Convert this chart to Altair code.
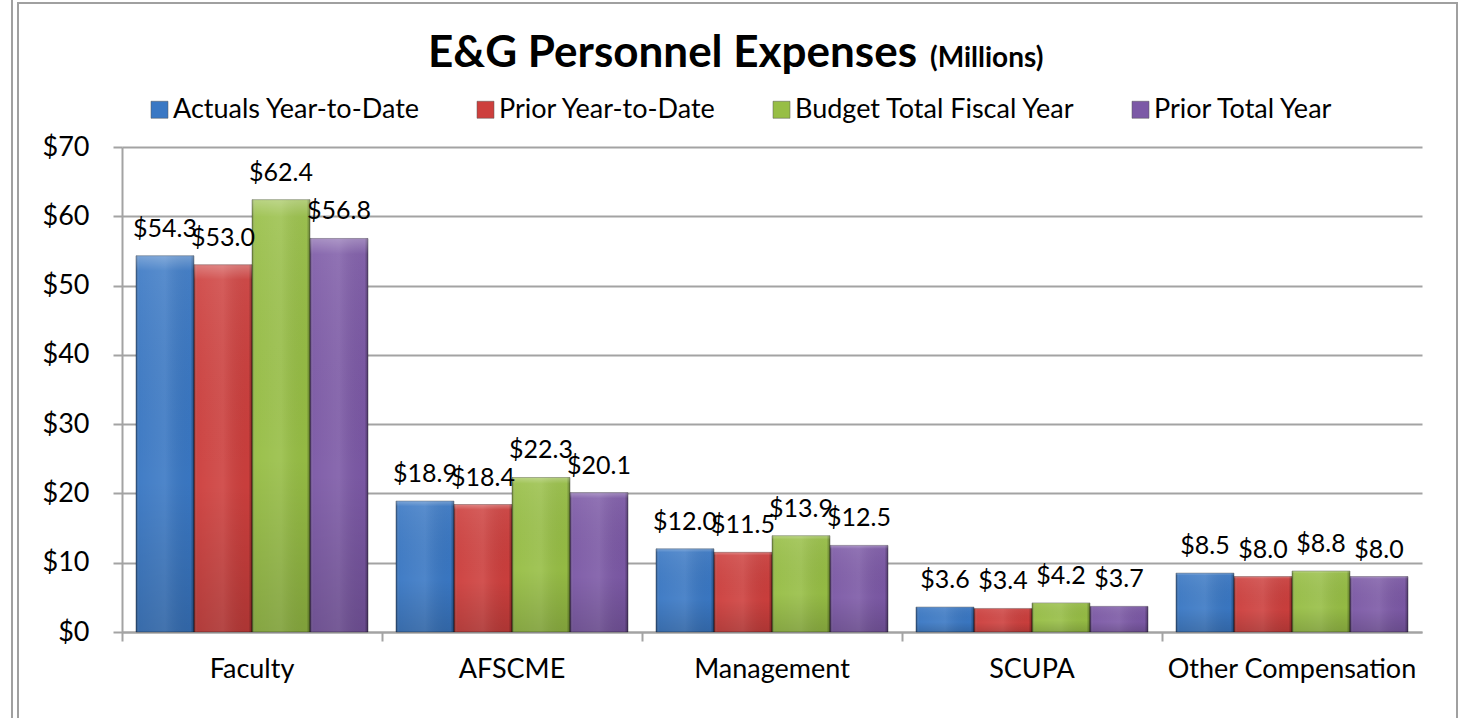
import altair as alt
import pandas as pd

categories = ["Faculty", "AFSCME", "Management", "SCUPA", "Other Compensation"]
series = ["Actuals Year-to-Date", "Prior Year-to-Date", "Budget Total Fiscal Year", "Prior Total Year"]
actuals_ytd = [54.3, 18.9, 12.0, 3.6, 8.5]
prior_ytd = [53.0, 18.4, 11.5, 3.4, 8.0]
budget_total = [62.4, 22.3, 13.9, 4.2, 8.8]
prior_total = [56.8, 20.1, 12.5, 3.7, 8.0]
colors = ["#3A78C4", "#CD3F3D", "#97BE45", "#7C59A6"]
y_ticks = [0, 10, 20, 30, 40, 50, 60, 70]

FONT = "Lato"
GRID = "#a3a3a3"

rows = []
for s, vals in zip(series, [actuals_ytd, prior_ytd, budget_total, prior_total]):
    for c, v in zip(categories, vals):
        rows.append({"category": c, "series": s, "value": v})
df = pd.DataFrame(rows)

x_enc = alt.X(
    "category:N", sort=categories,
    scale=alt.Scale(paddingInner=0, paddingOuter=0),
    axis=alt.Axis(title=None, labelAngle=0, bandPosition=0, tickSize=9, tickWidth=2,
                  tickColor=GRID, domainColor=GRID, domainWidth=2, labelFontSize=27,
                  labelFont=FONT, labelColor="#000000", labelPadding=15, labelLimit=400,
                  grid=False),
)
y_enc = alt.Y(
    "value:Q",
    scale=alt.Scale(domain=[0, 70], nice=False),
    axis=alt.Axis(title=None, values=y_ticks, format="$.0f", tickSize=9, tickWidth=2,
                  tickColor=GRID, domainColor=GRID, domainWidth=2, grid=True,
                  gridColor=GRID, gridWidth=2, labelFontSize=27, labelFont=FONT,
                  labelColor="#000000", labelPadding=24),
)
xo_enc = alt.XOffset("series:N", sort=series,
                     scale=alt.Scale(domain=series, paddingOuter=0.241, paddingInner=0))

base = alt.Chart(df)

bars = base.mark_bar().encode(
    x=x_enc, y=y_enc, xOffset=xo_enc,
    color=alt.Color(
        "series:N", sort=series,
        scale=alt.Scale(domain=series, range=colors),
        legend=alt.Legend(title=None, orient="none", legendX=24, legendY=-51,
                          direction="horizontal", symbolType="square", symbolSize=289,
                          symbolStrokeColor="#555555", symbolStrokeWidth=0.5,
                          labelFontSize=27, labelFont=FONT, labelColor="#000000",
                          labelOffset=0, columnPadding=51, labelLimit=500),
    ),
)

shade_h = alt.Gradient(
    gradient="linear", x1=0, x2=1, y1=0, y2=0,
    stops=[
        alt.GradientStop(offset=0, color="rgba(0,0,0,0.35)"),
        alt.GradientStop(offset=0.06, color="rgba(255,255,255,0.04)"),
        alt.GradientStop(offset=0.5, color="rgba(255,255,255,0.10)"),
        alt.GradientStop(offset=0.94, color="rgba(0,0,0,0.02)"),
        alt.GradientStop(offset=1, color="rgba(0,0,0,0.38)"),
    ],
)
shade_v = alt.Gradient(
    gradient="linear", x1=0, x2=0, y1=0, y2=1,
    stops=[
        alt.GradientStop(offset=0, color="rgba(255,255,255,0.30)"),
        alt.GradientStop(offset=0.04, color="rgba(255,255,255,0.06)"),
        alt.GradientStop(offset=0.6, color="rgba(0,0,0,0.0)"),
        alt.GradientStop(offset=1, color="rgba(0,0,0,0.14)"),
    ],
)

overlay_h = base.mark_bar(color=shade_h, stroke="#000000", strokeOpacity=0.3, strokeWidth=1).encode(
    x=x_enc, y=y_enc, xOffset=xo_enc)
overlay_v = base.mark_bar(color=shade_v).encode(x=x_enc, y=y_enc, xOffset=xo_enc)

labels = base.mark_text(font=FONT, fontSize=25, baseline="middle", dy=-27, color="#000000").encode(
    x=x_enc, y=y_enc, xOffset=xo_enc,
    text=alt.Text("value:Q", format="$.1f"),
)

one = alt.Data(values=[{"k": 1}])
title_main = alt.Chart(one).mark_text(
    text="E&G Personnel Expenses", font=FONT, fontSize=44, fontWeight="bold",
    align="right", baseline="alphabetic", color="#000000",
).encode(x=alt.value(795), y=alt.value(-80))
title_sub = alt.Chart(one).mark_text(
    text="(Millions)", font=FONT, fontSize=28, fontWeight="bold",
    align="left", baseline="alphabetic", color="#000000",
).encode(x=alt.value(808), y=alt.value(-80))

frame = alt.Chart(one).mark_rect(fillOpacity=0, stroke="#a0a0a0", strokeWidth=2).encode(
    x=alt.value(-104), x2=alt.value(1335), y=alt.value(-144), y2=alt.value(640))
edge = alt.Chart(one).mark_rule(color="#a0a0a0", strokeWidth=2).encode(
    x=alt.value(-110), y=alt.value(-150), y2=alt.value(640))

chart = alt.layer(
    frame, edge, bars, overlay_h, overlay_v, labels, title_main, title_sub
).properties(
    width=1300, height=485,
    autosize=alt.AutoSizeParams(type="none"),
    padding={"left": 122, "top": 147, "right": 45, "bottom": 86},
).configure_view(strokeWidth=0)

chart.save("out.html", embed_options={"renderer": "svg", "actions": False})
